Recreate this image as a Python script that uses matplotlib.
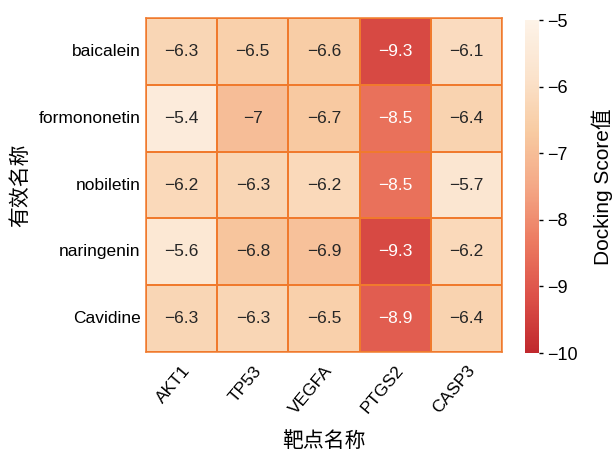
import matplotlib

matplotlib.use("Agg")
import matplotlib.pyplot as plt  # noqa: E402
import numpy as np  # noqa: E402
import seaborn as sns  # noqa: E402
from matplotlib.colors import LinearSegmentedColormap  # noqa: E402

compounds = ["baicalein", "formononetin", "nobiletin", "naringenin", "Cavidine"]
targets = ["AKT1", "TP53", "VEGFA", "PTGS2", "CASP3"]
scores = [
    [-6.3, -6.5, -6.6, -9.3, -6.1],
    [-5.4, -7.0, -6.7, -8.5, -6.4],
    [-6.2, -6.3, -6.2, -8.5, -5.7],
    [-5.6, -6.8, -6.9, -9.3, -6.2],
    [-6.3, -6.3, -6.5, -8.9, -6.4],
]

plt.rcParams["font.family"] = ["Liberation Sans", "Noto Sans CJK SC", "DejaVu Sans"]

cmap = LinearSegmentedColormap.from_list(
    "dock",
    ["#c0282d", "#dc5048", "#ec7a60", "#f4a886", "#f8cba2", "#fbe3cc", "#fdf3e8"],
)

fig = plt.figure(figsize=(6.12, 4.57), dpi=100)
ax = fig.add_axes([146 / 612, 1 - 352 / 457, 356 / 612, 334 / 457])
cax = fig.add_axes([525 / 612, 1 - 353 / 457, 14 / 612, 333 / 457])

sns.heatmap(
    np.array(scores), ax=ax, cbar_ax=cax, cmap=cmap, vmin=-10, vmax=-5,
    annot=True, fmt="g", annot_kws={"fontsize": 12.5},
    linewidths=1.1, linecolor="#f07a2d",
    xticklabels=targets, yticklabels=compounds,
)
for t in ax.texts:
    t.set_text(t.get_text().replace("-", "\u2212"))

# 外框
for s in ax.spines.values():
    s.set_visible(True)
    s.set_color("#f07a2d")
    s.set_linewidth(1.1)

ax.tick_params(length=0, labelsize=12.5, pad=4)
ax.tick_params(axis="x", pad=8)
plt.setp(ax.get_xticklabels(), rotation=50, ha="right", rotation_mode="anchor")
plt.setp(ax.get_yticklabels(), rotation=0)
ax.set_xlabel("靶点名称", fontsize=15, labelpad=10)
ax.set_ylabel("有效名称", fontsize=15, labelpad=6)

cax.tick_params(labelsize=13, length=3, width=1, pad=3)
cax.set_yticks([-10, -9, -8, -7, -6, -5])
cax.set_yticklabels(["\u2212%d" % v for v in [10, 9, 8, 7, 6, 5]])
cax.set_ylabel("Docking Score值", fontsize=15, labelpad=10)
for s in cax.spines.values():
    s.set_visible(False)

fig.savefig("out.png", dpi=100)
